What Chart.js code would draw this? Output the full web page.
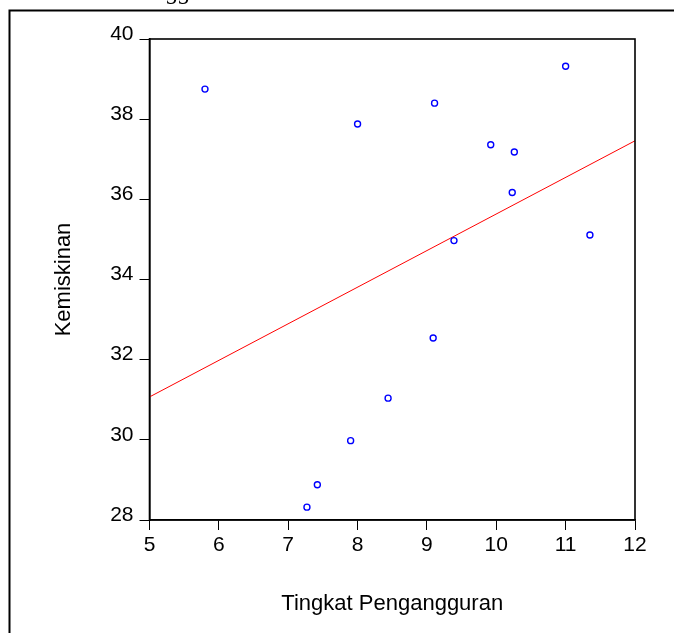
<!DOCTYPE html>
<html>
<head>
<meta charset="utf-8">
<script src="https://cdn.jsdelivr.net/npm/chart.js@4/dist/chart.umd.min.js"></script>
<style>
  body { margin: 0; background: #fff; }
  canvas { display: block; }
</style>
</head>
<body>
<canvas id="scatter" width="674" height="633"></canvas>
<script>
// tingkat pengangguran (x) vs kemiskinan (y)
const pengangguran = [5.80, 8.00, 9.11, 9.92, 10.26, 11.00, 10.23, 9.39, 11.35, 9.09, 8.44, 7.90, 7.42, 7.27];
const kemiskinan   = [38.75, 37.88, 38.40, 37.36, 37.18, 39.32, 36.17, 34.97, 35.11, 32.54, 31.04, 29.98, 28.88, 28.32];

// garis regresi, ujung kiri dan kanan
const garisX = [5, 12];
const garisY = [31.07, 37.46];

const xTicks = [5, 6, 7, 8, 9, 10, 11, 12];
const yTicks = [28, 30, 32, 34, 36, 38, 40];

let titik = [];
for (let i = 0; i < pengangguran.length; i++) {
    titik.push({x: pengangguran[i], y: kemiskinan[i]});
}
let garis = [];
for (let i = 0; i < garisX.length; i++) {
    garis.push({x: garisX[i], y: garisY[i]});
}

// bingkai luar + kotak area plot
const bingkai = {
    id: "bingkai",
    afterDraw(chart) {
        const ctx = chart.ctx;
        const a = chart.chartArea;
        ctx.save();
        ctx.strokeStyle = "#000";
        ctx.lineWidth = 2;
        ctx.strokeRect(9.5, 10.5, 700, 700);
        ctx.lineWidth = 1.6;
        ctx.strokeRect(a.left, a.top, a.right - a.left, a.bottom - a.top);
        ctx.fillStyle = "#000";
        ctx.font = "italic 24px 'Liberation Serif'";
        ctx.textBaseline = "alphabetic";
        ctx.fillText("gg", 167, -1);
        ctx.restore();
    }
};

const tickFont = {family: "'Liberation Sans', Arial, sans-serif", size: 21};
const titleFont = {family: "'Liberation Sans', Arial, sans-serif", size: 22};

const ctx = document.getElementById("scatter").getContext("2d");
const myChart = new Chart(ctx, {
    type: "scatter",
    data: {
        datasets: [
            {
                data: titik,
                showLine: false,
                pointRadius: 3,
                pointBorderWidth: 1.4,
                pointBorderColor: "#0000ff",
                pointBackgroundColor: "#fff"
            },
            {
                data: garis,
                showLine: true,
                borderColor: "#ff0000",
                borderWidth: 1,
                pointRadius: 0
            }
        ]
    },
    options: {
        responsive: false,
        animation: false,
        layout: {padding: {left: 0, right: 39, top: 39, bottom: 0}},
        plugins: {
            legend: {display: false},
            tooltip: {enabled: false}
        },
        scales: {
            x: {
                type: "linear",
                min: 5,
                max: 12,
                afterBuildTicks: (s) => { s.ticks = xTicks.map(v => ({value: v})); },
                afterFit: (s) => { s.height = 113; },
                grid: {drawOnChartArea: false, tickLength: 10, color: "#000", lineWidth: 1},
                border: {display: true, color: "#000", width: 1.6},
                ticks: {color: "#000", font: tickFont, padding: 3, maxRotation: 0},
                title: {display: true, text: "Tingkat Pengangguran", color: "#000", font: titleFont, padding: {top: 0, bottom: 16}}
            },
            y: {
                type: "linear",
                min: 28,
                max: 40,
                afterBuildTicks: (s) => { s.ticks = yTicks.map(v => ({value: v})); },
                afterFit: (s) => { s.width = 149.5; },
                grid: {drawOnChartArea: false, tickLength: 10, color: "#000", lineWidth: 1},
                border: {display: true, color: "#000", width: 1.6},
                ticks: {color: "#000", font: tickFont, padding: 6, labelOffset: -5},
                title: {display: true, text: "Kemiskinan", color: "#000", font: titleFont, padding: {top: 51, bottom: 0}}
            }
        }
    },
    plugins: [bingkai]
});
</script>
</body>
</html>
